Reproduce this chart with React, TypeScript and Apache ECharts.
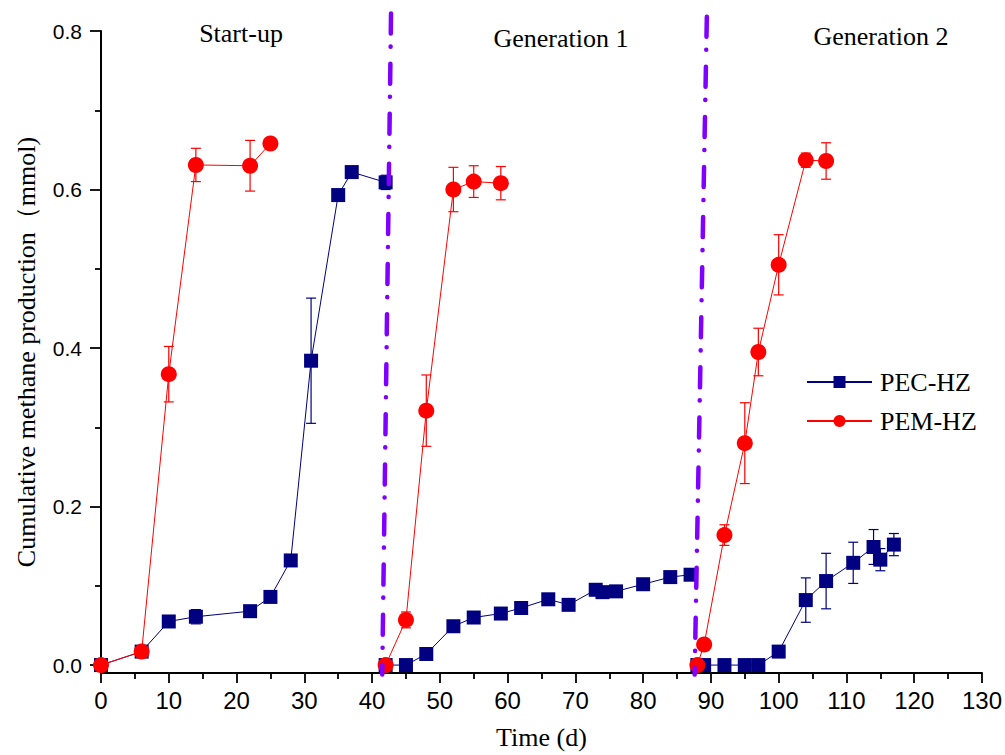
import React, { useEffect, useRef } from "react";
import * as echarts from "echarts";

// ---- Data ----
const pecStartDays = [0, 6, 10, 14, 22, 25, 28, 31, 35, 37, 42];
const pecStartValues = [0, 0.017, 0.055, 0.061, 0.068, 0.086, 0.132, 0.384, 0.593, 0.622, 0.609];
const pecStartErr = [0, 0.004, 0.006, 0.009, 0.004, 0.004, 0.004, 0.079, 0.004, 0.004, 0.009];

const pecGen1Days = [42, 45, 48, 52, 55, 59, 62, 66, 69, 73, 74, 76, 80, 84, 87];
const pecGen1Values = [0, 0, 0.014, 0.049, 0.06, 0.065, 0.072, 0.083, 0.076, 0.095, 0.092, 0.093, 0.102, 0.111, 0.114];
const pecGen1Err = [0, 0, 0, 0, 0, 0, 0, 0, 0, 0.005, 0, 0, 0, 0, 0];

const pecGen2Days = [88, 89, 92, 95, 97, 100, 104, 107, 111, 114, 115, 117];
const pecGen2Values = [0, 0, 0, 0, 0, 0.017, 0.082, 0.106, 0.129, 0.149, 0.133, 0.152];
const pecGen2Err = [0, 0, 0, 0, 0, 0.004, 0.028, 0.035, 0.026, 0.022, 0.014, 0.014];

const pemStartDays = [0, 6, 10, 14, 22, 25];
const pemStartValues = [0, 0.017, 0.367, 0.631, 0.63, 0.658];
const pemStartErr = [0, 0, 0.035, 0.021, 0.032, 0];

const pemGen1Days = [42, 45, 48, 52, 55, 59];
const pemGen1Values = [0, 0.057, 0.321, 0.6, 0.61, 0.608];
const pemGen1Err = [0, 0.01, 0.045, 0.028, 0.02, 0.021];

const pemGen2Days = [88, 89, 92, 95, 97, 100, 104, 107];
const pemGen2Values = [0, 0.026, 0.164, 0.28, 0.395, 0.505, 0.637, 0.636];
const pemGen2Err = [0, 0, 0.013, 0.051, 0.03, 0.038, 0.009, 0.023];

// phase boundary lines (day, value) end points
const boundary1 = [[42.8, 0.822], [41.5, -0.012]];
const boundary2 = [[89.4, 0.818], [87.6, -0.012]];

const phaseLabels = ["Start-up", "Generation 1", "Generation 2"];
const seriesNames = ["PEC-HZ", "PEM-HZ"];
const yTickValues = [0, 0.2, 0.4, 0.6, 0.8];
const yMinorTickValues = [0.1, 0.3, 0.5, 0.7];

const PEC_COLOR = "#000080";
const PEM_COLOR = "#ff0000";
const PURPLE = "#7f00ff";

function buildLine(phases: [number[], number[]][]) {
  const out: any[] = [];
  phases.forEach(([d, v], i) => {
    if (i > 0) out.push([d[0] - 0.5, null]);
    d.forEach((x, k) => out.push([x, v[k]]));
  });
  return out;
}

function buildErr(phases: [number[], number[], number[]][]) {
  const out: any[] = [];
  phases.forEach(([d, v, e]) => {
    d.forEach((x, k) => {
      if (e[k] > 0) out.push([x, v[k] - e[k], v[k] + e[k]]);
    });
  });
  return out;
}

function errSeries(data: any[], color: string) {
  return {
    type: "custom",
    data,
    encode: { x: 0, y: [1, 2] },
    clip: false,
    z: 2,
    silent: true,
    renderItem: (params: any, api: any) => {
      const x = api.value(0);
      const lo = api.value(1);
      const hi = api.value(2);
      const p1 = api.coord([x, hi]);
      const p2 = api.coord([x, lo]);
      const w = 5;
      const st = { stroke: color, lineWidth: 1.2 };
      return {
        type: "group",
        children: [
          { type: "line", shape: { x1: p1[0], y1: p1[1], x2: p2[0], y2: p2[1] }, style: st },
          { type: "line", shape: { x1: p1[0] - w, y1: p1[1], x2: p1[0] + w, y2: p1[1] }, style: st },
          { type: "line", shape: { x1: p2[0] - w, y1: p2[1], x2: p2[0] + w, y2: p2[1] }, style: st },
        ],
      };
    },
  };
}

export default function App() {
  const ref = useRef<HTMLDivElement>(null);
  useEffect(() => {
    if (!ref.current) return;
    const chart = echarts.init(ref.current, undefined, { renderer: "svg" });
    const pecData = buildLine([
      [pecStartDays, pecStartValues],
      [pecGen1Days, pecGen1Values],
      [pecGen2Days, pecGen2Values],
    ]);
    const pemData = buildLine([
      [pemStartDays, pemStartValues],
      [pemGen1Days, pemGen1Values],
      [pemGen2Days, pemGen2Values],
    ]);
    const pecErr = buildErr([
      [pecStartDays, pecStartValues, pecStartErr],
      [pecGen1Days, pecGen1Values, pecGen1Err],
      [pecGen2Days, pecGen2Values, pecGen2Err],
    ]);
    const pemErr = buildErr([
      [pemStartDays, pemStartValues, pemStartErr],
      [pemGen1Days, pemGen1Values, pemGen1Err],
      [pemGen2Days, pemGen2Values, pemGen2Err],
    ]);
    const serif = "'Liberation Serif', 'Times New Roman', serif";
    const sans = "'Liberation Sans', Arial, sans-serif";
    const boundaryLine = (data: number[][]) => ({
      type: "line",
      data,
      showSymbol: false,
      symbol: "none",
      clip: false,
      silent: true,
      z: 10,
      lineStyle: { color: PURPLE, width: 4.5, type: [20, 13, 0.1, 17], cap: "round" },
    });
    const titleText = (x: number, y: number, text: string) => ({
      type: "text",
      x,
      y,
      style: { text, fontFamily: serif, fontSize: 26, fill: "#000", align: "center", verticalAlign: "middle" },
    });
    chart.setOption({
      animation: false,
      backgroundColor: "#fff",
      grid: { left: 101, right: 20, top: 31, bottom: 79, containLabel: false },
      legend: {
        data: seriesNames,
        orient: "vertical",
        left: 801,
        top: 364,
        itemWidth: 65,
        itemHeight: 15,
        itemGap: 13,
        textStyle: { fontFamily: serif, fontSize: 26, color: "#000", padding: [0, 0, 0, 3] },
      },
      xAxis: {
        type: "value",
        min: 0,
        max: 130,
        interval: 10,
        name: "Time (d)",
        nameLocation: "middle",
        nameGap: 51,
        nameTextStyle: { fontFamily: serif, fontSize: 26, color: "#000" },
        axisLine: { onZero: false, lineStyle: { color: "#000", width: 2 } },
        axisTick: { length: 10, lineStyle: { color: "#000", width: 1.8 } },
        minorTick: { show: true, splitNumber: 2, length: 6, lineStyle: { color: "#000", width: 1.8 } },
        axisLabel: { fontFamily: sans, fontSize: 24, color: "#000", margin: 15 },
        splitLine: { show: false },
      },
      yAxis: [
        {
          type: "value",
          min: -0.01,
          max: 0.8,
          name: "Cumulative methane production（mmol)",
          nameLocation: "middle",
          nameGap: 62,
          nameTextStyle: { fontFamily: serif, fontSize: 26, color: "#000" },
          axisLine: { onZero: false, lineStyle: { color: "#000", width: 2 } },
          axisTick: { customValues: yTickValues, length: 11, lineStyle: { color: "#000", width: 1.8 } },
          axisLabel: {
            customValues: yTickValues,
            fontFamily: sans,
            fontSize: 21,
            color: "#000",
            margin: 19,
            formatter: (v: number) => v.toFixed(1),
          },
          splitLine: { show: false },
        },
        {
          type: "value",
          min: -0.01,
          max: 0.8,
          position: "left",
          axisLine: { show: false, onZero: false },
          axisTick: { customValues: yMinorTickValues, length: 6, lineStyle: { color: "#000", width: 1.8 } },
          axisLabel: { show: false },
          splitLine: { show: false },
        },
      ],
      series: [
        errSeries(pecErr, PEC_COLOR),
        errSeries(pemErr, PEM_COLOR),
        {
          name: seriesNames[0],
          type: "line",
          data: pecData,
          symbol: "rect",
          symbolSize: 14,
          clip: false,
          z: 3,
          itemStyle: { color: PEC_COLOR },
          lineStyle: { color: PEC_COLOR, width: 1 },
        },
        {
          name: seriesNames[1],
          type: "line",
          data: pemData,
          symbol: "circle",
          symbolSize: 16,
          clip: false,
          z: 4,
          itemStyle: { color: PEM_COLOR },
          lineStyle: { color: PEM_COLOR, width: 1 },
        },
        boundaryLine(boundary1),
        boundaryLine(boundary2),
      ],
      graphic: [
        titleText(241, 33, phaseLabels[0]),
        titleText(561, 38, phaseLabels[1]),
        titleText(881, 36, phaseLabels[2]),
      ],
    });
    return () => chart.dispose();
  }, []);
  return <div ref={ref} style={{ width: 1005, height: 755, position: "absolute", left: 0, top: 0 }} />;
}
